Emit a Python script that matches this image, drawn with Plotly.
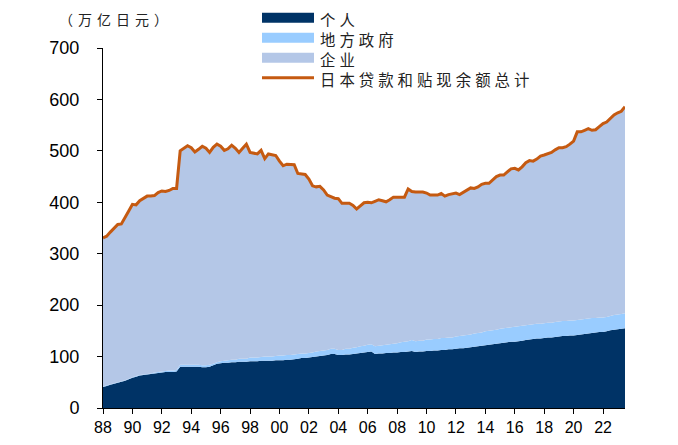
import pandas as pd
import plotly.graph_objects as go

# 日本贷款和贴现余额（万亿日元），季度，1988Q1 - 2023Q3
total = [
    331, 334, 342, 350,  357, 358, 372, 383,  396, 395, 403, 408,  412, 412, 413, 419,
    422, 421, 423, 427,  427, 500, 505, 510,  506, 498, 503, 509,  505, 497, 507, 513,
    509, 501, 504, 511,  505, 497, 505, 513,  497, 496, 494, 501,  485, 494, 492, 491,
    480, 471, 474, 474,  473, 456, 455, 454,  445, 432, 430, 431,  424, 414, 411, 408,
    407, 398, 398, 398,  394, 387, 393, 399,  400, 399, 402, 405,  403, 401, 405, 410,
    410, 410, 410, 426,  421, 420, 420, 420,  418, 414, 414, 414,  417, 412, 415, 417,
    418, 415, 419, 423,  428, 427, 430, 435,  437, 437, 443, 450,  453, 453, 459, 465,
    466, 463, 469, 477,  481, 480, 484, 490,  492, 494, 497, 502,  506, 506, 508, 513,
    519, 537, 537, 540,  543, 540, 541, 547,  553, 556, 563, 570,  574, 577, 586,
]

personal = [
    41, 43, 45, 47,  49, 51, 53, 56,  59, 61, 63, 64,  65, 66, 67, 68,
    69, 70, 70, 70,  71, 80, 80, 80,  80, 80, 80, 79,  79, 80, 83, 86,
    87, 88, 88, 89,  89, 90, 90, 90,  91, 91, 91, 92,  92, 92, 92, 93,
    93, 93, 94, 94,  95, 96, 97, 97,  98, 99, 100, 101,  102, 103, 105, 105,
    103, 103, 104, 104,  105, 106, 107, 108,  109, 110, 105, 106,  106, 107, 107, 108,
    108, 109, 109, 110,  111, 109, 110, 110,  111, 111, 112, 112,  113, 113, 114, 114,
    115, 116, 116, 117,  118, 119, 120, 121,  122, 123, 124, 125,  126, 127, 128, 129,
    129, 130, 131, 132,  133, 134, 135, 135,  136, 137, 137, 138,  139, 140, 140, 141,
    141, 142, 143, 144,  145, 146, 147, 148,  148, 149, 151, 152,  153, 154, 155,
]

local_gov = [
    1, 1, 1, 1,  1, 1, 1, 1,  1, 1, 1, 1,  1, 1, 2, 2,
    2, 2, 3, 3,  3, 4, 4, 4,  4, 4, 4, 4,  4, 4, 3, 3,
    4, 4, 5, 5,  5, 6, 6, 6,  7, 7, 7, 7,  8, 8, 8, 8,
    9, 9, 9, 9,  9, 9, 9, 9,  9, 9, 10, 10,  10, 10, 10, 10,
    10, 10, 11, 11,  12, 12, 13, 13,  14, 14, 15, 15,  16, 16, 17, 17,
    18, 19, 20, 20,  21, 21, 21, 21,  22, 22, 22, 22,  23, 23, 23, 23,
    24, 24, 25, 25,  25, 26, 26, 26,  27, 27, 27, 27,  28, 28, 28, 28,
    29, 29, 29, 29,  29, 29, 29, 29,  29, 29, 29, 29,  29, 29, 29, 29,
    29, 29, 29, 29,  29, 29, 28, 28,  28, 28, 28, 29,  29, 29, 29,
]

tick_years = list(range(1988, 2023, 2))
tick_labels = [f"{y % 100:02d}" for y in tick_years]

dates = pd.date_range("1988-01-01", periods=len(total), freq="QS")
corporate = [t - p - l for t, p, l in zip(total, personal, local_gov)]

NAVY = "#003366"
LIGHT_BLUE = "#99CCFF"
LAVENDER = "#B4C7E7"
ORANGE = "#C55A11"

W, H = 670, 437
L, R, T, B = 95, 53, 40, 37

def px_x(x):  # pixel -> paper
    return (x - L) / (W - L - R)

def px_y(y):
    return (H - B - y) / (H - T - B)

areas = [("个人", personal, NAVY),
         ("地方政府", local_gov, LIGHT_BLUE),
         ("企业", corporate, LAVENDER)]
line_name = "日本贷款和贴现余额总计"

fig = go.Figure()
for name, vals, col in areas:
    fig.add_trace(go.Scatter(x=dates, y=vals, name=name, mode="none",
                             stackgroup="one", fillcolor=col, showlegend=False))
fig.add_trace(go.Scatter(x=dates, y=total, name=line_name, mode="lines",
                         line=dict(color=ORANGE, width=3), showlegend=False))

num_font = dict(family="Liberation Sans, Arial, sans-serif", color="black")
cjk = "Noto Sans CJK SC"

fig.update_xaxes(type="date", range=[dates[0], dates[-1]],
                 tickvals=[pd.Timestamp(f"{y}-01-01") for y in tick_years], ticktext=tick_labels,
                 showline=True, linecolor="black", linewidth=1,
                 ticks="outside", ticklen=5, tickcolor="black",
                 tickfont=dict(size=16, **num_font), showgrid=False, zeroline=False)
fig.update_yaxes(range=[0, 700], dtick=100,
                 showline=True, linecolor="black", linewidth=1,
                 ticks="outside", ticklen=5, tickcolor="black", ticklabelstandoff=14,
                 tickfont=dict(size=18, **num_font), showgrid=False, zeroline=False)

fig.add_annotation(text='<span style="letter-spacing:5px">（万亿日元）</span>',
                   xref="paper", yref="paper", x=px_x(50), y=px_y(0),
                   xanchor="left", yanchor="top", showarrow=False, borderpad=0,
                   font=dict(family=cjk, size=14, color="#222222"))

# legend drawn by hand so the rows sit as tight as in the source (20px apart)
rows = [(n, c, "fill") for n, _, c in areas] + [(line_name, ORANGE, "line")]
for i, (name, col, kind) in enumerate(rows):
    yc = 9.7 + 20 * i
    if kind == "fill":
        fig.add_shape(type="rect", xref="paper", yref="paper",
                      x0=px_x(254), x1=px_x(306), y0=px_y(yc - 5), y1=px_y(yc + 5),
                      fillcolor=col, line_width=0)
    else:
        fig.add_shape(type="line", xref="paper", yref="paper",
                      x0=px_x(254), x1=px_x(306), y0=px_y(yc), y1=px_y(yc),
                      line=dict(color=col, width=3))

legend_text = "<br>".join(f'<span style="letter-spacing:4px">{r[0]}</span>' for r in rows)
fig.add_annotation(text=legend_text, xref="paper", yref="paper",
                   x=px_x(311), y=px_y(9.7 + 1 + 30),
                   xanchor="left", yanchor="middle", align="left", showarrow=False,
                   borderpad=0, font=dict(family=cjk, size=15.4, color="#222222"))

fig.update_layout(
    width=W, height=H,
    margin=dict(l=L, r=R, t=T, b=B, autoexpand=False),
    plot_bgcolor="white", paper_bgcolor="white",
    showlegend=False,
)

fig.write_html("out.html")
